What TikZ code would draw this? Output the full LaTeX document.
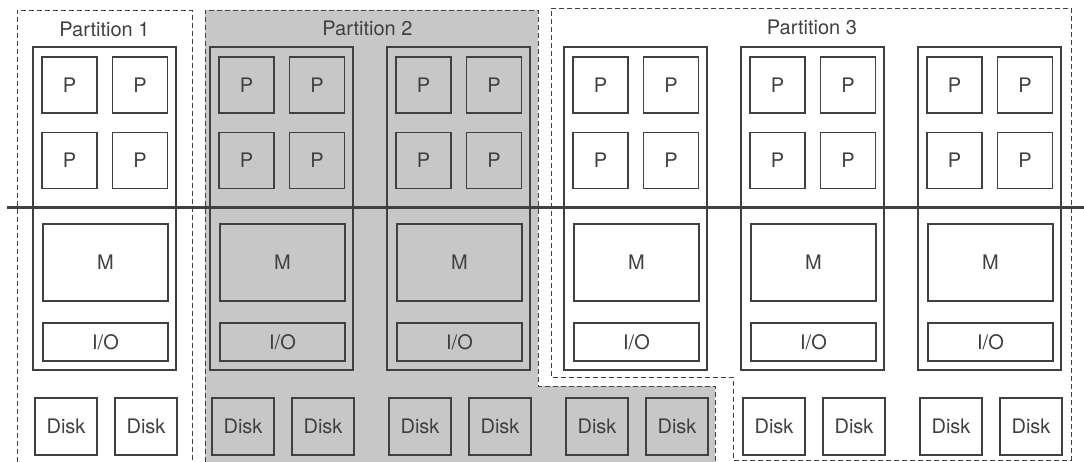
\documentclass[tikz,border=0pt]{standalone}
\usepackage{fontspec}
\setmainfont{TeX Gyre Heros}
\definecolor{ink}{gray}{0.25}
\definecolor{ombra}{gray}{0.78}
\begin{document}
\begin{tikzpicture}[x=1pt,y=-1pt,line join=miter,font=\fontsize{20}{24}\selectfont,
    nodo/.style={draw=ink,line width=2pt,minimum width=143pt,minimum height=323pt,inner sep=0pt},
    proc/.style={draw=ink,line width=1.3pt,minimum width=55pt,minimum height=56pt,inner sep=0pt,text=ink},
    mem/.style={proc,minimum width=125pt,minimum height=77pt},
    io/.style={proc,minimum width=125pt,minimum height=38pt},
    disco/.style={proc,minimum width=62pt,minimum height=57pt},
    part/.style={draw=ink,line width=0.9pt,dash pattern=on 5pt off 3pt},
    titolo/.style={anchor=base,inner sep=0pt,text=ink},
    bus/.style={draw=ink,line width=3pt}]

  \useasboundingbox (0,0) rectangle (1084,462);

  % ---- le partizioni ------------------------------------------------------
  \fill[ombra] (205,10) -- (538,10) -- (538,386) -- (715,386) -- (715,462) -- (205,462) -- cycle;
  \draw[part] (17,462) -- (17,10) -- (192,10) -- (192,462);
  \draw[part] (205,462) -- (205,10) -- (538,10) -- (538,386) -- (715,386) -- (715,462);
  \draw[part] (551,8) -- (1071,8) -- (1071,460) -- (733,460) -- (733,377) -- (551,377) -- cycle;

  \node[titolo] (t1) at (104.5,37) {Partition 1};
  \node[titolo] (t2) at (367.5,36) {Partition 2};
  \node[titolo] (t3) at (812,35) {Partition 3};

  % ---- i nodi: quattro P, memoria, I/O e due dischi -----------------------
  \foreach \i/\l in {1/33,2/210,3/387,4/564,5/741,6/918} {
    \node[nodo] (n\i) at (\l+71.5,208.5) {};
    \node[proc] (n\i p1) at (\l+36.5,85) {P};
    \node[proc] (n\i p2) at (\l+107,85) {P};
    \node[proc] (n\i p3) at (\l+36.5,160.5) {P};
    \node[proc] (n\i p4) at (\l+107,160.5) {P};
    \node[mem] (n\i m) at (\l+72.5,262.5) {M};
    \node[io] (n\i io) at (\l+72.5,342) {I/O};
    \node[disco] (n\i d1) at (\l+33,426.5) {Disk};
    \node[disco] (n\i d2) at (\l+113,426.5) {Disk};
  }

  % ---- il bus -------------------------------------------------------------
  \coordinate (busA) at (7,208);
  \coordinate (busB) at (1084,208);
  \draw[bus] (busA) -- (busB);

\end{tikzpicture}
\end{document}
